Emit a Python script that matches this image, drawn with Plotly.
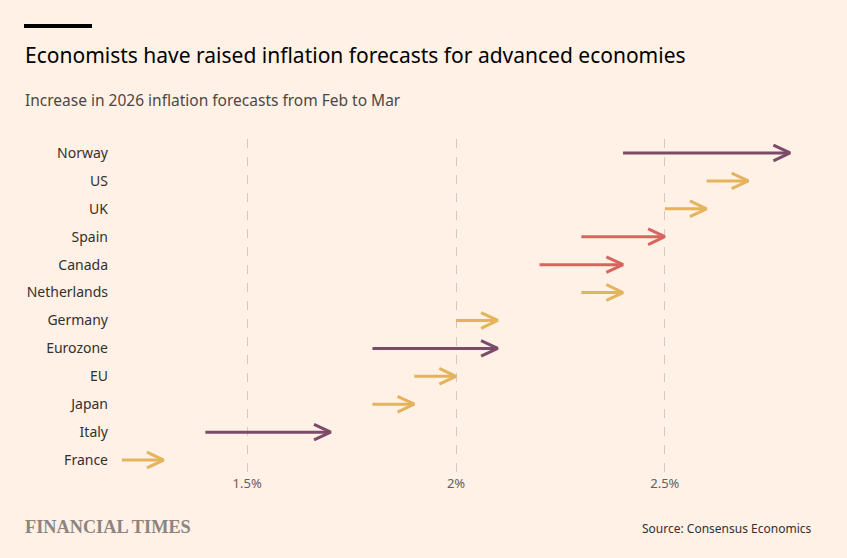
import plotly.graph_objects as go

countries = ["Norway","US","UK","Spain","Canada","Netherlands","Germany","Eurozone","EU","Japan","Italy","France"]
feb = [2.4,2.6,2.5,2.3,2.2,2.3,2.0,1.8,1.9,1.8,1.4,1.2]
mar = [2.8,2.7,2.6,2.5,2.4,2.4,2.1,2.1,2.0,1.9,1.7,1.3]
tick_vals = [1.5,2.0,2.5]
tick_text = ["1.5%","2%","2.5%"]

def color(d):
    if d >= 0.25: return "#7b4b68"
    if d >= 0.15: return "#d8655d"
    return "#e5b35e"

fig = go.Figure()
n = len(countries)
for i,(c,a,b) in enumerate(zip(countries,feb,mar)):
    y = n-1-i
    col = color(b-a)
    fig.add_trace(go.Scatter(x=[a,b-0.005],y=[y,y],mode="lines",line=dict(color=col,width=3),hoverinfo="skip",showlegend=False))
    fig.add_trace(go.Scatter(x=[b-0.04,b,b-0.04],y=[y+0.28,y,y-0.28],mode="lines",line=dict(color=col,width=3),hoverinfo="skip",showlegend=False))

fig.update_layout(
    width=847,height=558,paper_bgcolor="#fff1e5",plot_bgcolor="#fff1e5",
    margin=dict(l=101,r=36,t=139,b=84),
    font=dict(family="Noto Sans, sans-serif",color="#33302e"),
    xaxis=dict(range=[1.15,2.85],tickvals=tick_vals,ticktext=tick_text,showgrid=True,
               gridcolor="#d9c8b8",griddash="dash",gridwidth=1,zeroline=False,
               tickfont=dict(size=13,color="#66605c"),ticks="",showline=False),
    yaxis=dict(range=[-0.5,n-0.5],tickvals=list(range(n)),ticktext=countries[::-1],
               showgrid=False,zeroline=False,tickfont=dict(size=14,color="#33302e"),ticks="",
               ticklabelstandoff=-8),
    shapes=[dict(type="rect",xref="paper",yref="paper",x0=-77/710,x1=(92-101)/710,
                 y0=1+(139-28)/335,y1=1+(139-24)/335,fillcolor="#000",line_width=0)],
    annotations=[
        dict(text="Economists have raised inflation forecasts for advanced economies",xref="paper",yref="paper",
             x=-78/710,y=1+(139-55)/335,xanchor="left",yanchor="middle",showarrow=False,font=dict(size=21,color="#000")),
        dict(text="Increase in 2026 inflation forecasts from Feb to Mar",xref="paper",yref="paper",
             x=-78/710,y=1+(139-100)/335,xanchor="left",yanchor="middle",showarrow=False,font=dict(size=15.5,color="#4d4845")),
        dict(text="<b>FINANCIAL TIMES</b>",xref="paper",yref="paper",x=-78/710,y=-(527-474)/335,xanchor="left",yanchor="middle",
             showarrow=False,font=dict(size=18.3,color="#8c8480",family="Liberation Serif, serif")),
        dict(text="Source: Consensus Economics",xref="paper",yref="paper",x=(814-101)/710,y=-(528-474)/335,xanchor="right",yanchor="middle",
             showarrow=False,font=dict(size=12,color="#33302e")),
    ],
)
fig.write_html("out.html", config={"displayModeBar": False},
               post_script="document.body.style.margin='0';document.body.style.background='#fff1e5';")
